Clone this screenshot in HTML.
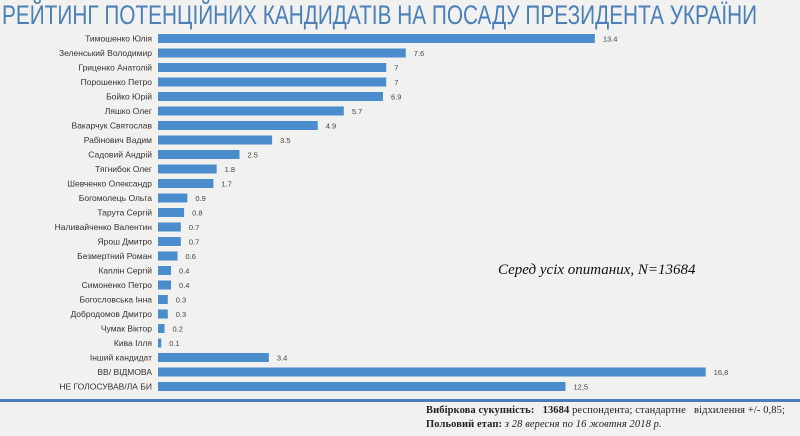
<!DOCTYPE html>
<html><head><meta charset="utf-8"><style>
body{margin:0;width:800px;height:436px;background:#f1f1f0;overflow:hidden;font-family:"Liberation Sans","DejaVu Sans",sans-serif;}
#title{position:absolute;left:2px;top:0px;font-size:27px;color:#4a7fb8;white-space:nowrap;transform:scaleX(0.77);transform-origin:0 0;}
svg{position:absolute;left:0;top:0}
#foot{position:absolute;left:426px;top:404px;font-family:"Liberation Serif",serif;font-size:10.5px;color:#222;line-height:14px;white-space:nowrap;letter-spacing:0.1px}
#note{position:absolute;left:498px;top:262px;font-family:"Liberation Serif",serif;font-style:italic;font-size:15px;color:#111}
</style></head><body>
<div id="title">РЕЙТИНГ ПОТЕНЦІЙНИХ КАНДИДАТІВ НА ПОСАДУ ПРЕЗИДЕНТА УКРАЇНИ</div>
<svg id="chart" width="800" height="436"></svg>
<div id="note">Серед усіх опитаних, N=13684</div>
<div id="foot"><b>Вибіркова сукупність:</b> &nbsp;&nbsp;<b>13684</b> респондента; стандартне &nbsp;&nbsp;відхилення +/- 0,85;<br><b>Польовий етап:</b> <i>з 28 вересня по 16 жовтня 2018 р.</i></div>
<script>
const categories=["Тимошенко Юлія","Зеленський Володимир","Гриценко Анатолій","Порошенко Петро","Бойко Юрій","Ляшко Олег","Вакарчук Святослав","Рабінович Вадим","Садовий Андрій","Тягнибок Олег","Шевченко Олександр","Богомолець Ольга","Тарута Сергій","Наливайченко Валентин","Ярош Дмитро","Безмертний Роман","Каплін Сергій","Симоненко Петро","Богословська Інна","Добродомов Дмитро","Чумак Віктор","Кива Ілля","Інший кандидат","ВВ/ ВІДМОВА","НЕ ГОЛОСУВАВ/ЛА БИ"];
const values=[13.4,7.6,7,7,6.9,5.7,4.9,3.5,2.5,1.8,1.7,0.9,0.8,0.7,0.7,0.6,0.4,0.4,0.3,0.3,0.2,0.1,3.4,16.8,12.5];
const labels=["13.4","7.6","7","7","6.9","5.7","4.9","3.5","2.5","1.8","1.7","0.9","0.8","0.7","0.7","0.6","0.4","0.4","0.3","0.3","0.2","0.1","3.4","16,8","12,5"];
const svg=document.getElementById('chart');const NS='http://www.w3.org/2000/svg';
const x0=158,scale=32.6,y0=38.5,step=14.5,bh=9;
const xs=v=>x0+v*scale, ys=i=>y0+i*step;
categories.forEach((c,i)=>{
 const r=document.createElementNS(NS,'rect');
 r.setAttribute('x',x0);r.setAttribute('y',ys(i)-bh/2);r.setAttribute('width',xs(values[i])-x0);r.setAttribute('height',bh);r.setAttribute('fill','#4a8ccc');
 
 
 svg.appendChild(r);
 const t=document.createElementNS(NS,'text');
 t.setAttribute('x',x0-6);t.setAttribute('y',ys(i)+3);t.setAttribute('text-anchor','end');t.setAttribute('font-size','8.5');t.setAttribute('fill','#333');t.textContent=c;
 
 
 svg.appendChild(t);
 const v=document.createElementNS(NS,'text');
 v.setAttribute('x',xs(values[i])+8);v.setAttribute('y',ys(i)+3);v.setAttribute('font-size','7.5');v.setAttribute('fill','#444');v.textContent=labels[i];
 
 
 svg.appendChild(v);
});
const l=document.createElementNS(NS,'rect');
l.setAttribute('x',0);l.setAttribute('y',399);l.setAttribute('width',800);l.setAttribute('height',3);l.setAttribute('fill','#4a7db5');


svg.appendChild(l);
</script>
</body></html>
